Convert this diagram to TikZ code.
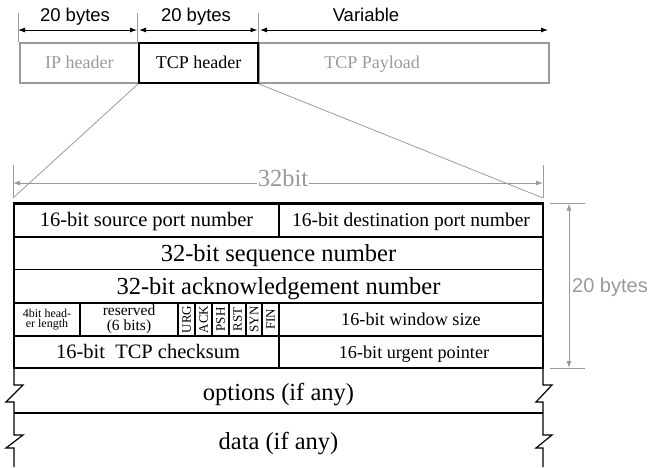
\documentclass[tikz,border=0pt]{standalone}
\usepackage{fontspec}
\setmainfont{Liberation Serif}
\setsansfont{Liberation Sans}
\usetikzlibrary{arrows.meta}

\definecolor{softgray}{HTML}{9A9A9A}

\begin{document}
\begin{tikzpicture}[x=1pt,y=-1pt,
  every node/.style={inner sep=0pt},
  % box a single text line by its capital height, so it sits centred
  line/.style={text height=#1, text depth=0pt},
  hdrbox/.style={draw, rectangle, anchor=north west, minimum height=40pt,
    line width=1.6pt, line=11.9pt, font=\fontsize{18}{20}\selectfont},
  lbl/.style={line=11.9pt, font=\fontsize{18}{20}\selectfont},
  dimtxt/.style={line=13.2pt, font=\sffamily\fontsize{18.5}{20}\selectfont},
  tip/.tip={Latex[length=7pt,width=5pt]},
  dimarrow/.style={line width=0.9pt, tip-tip},
  fsmall/.style={line=12pt, font=\fontsize{18.2}{20}\selectfont},
  fmid/.style={line=13.5pt, font=\fontsize{20.5}{22}\selectfont},
  fbig/.style={line=16.2pt, font=\fontsize{24.5}{26}\selectfont},
  flag/.style={rotate=90, line=8.6pt, font=\fontsize{13}{13}\selectfont},
  outer/.style={line width=2.5pt},
  inner/.style={line width=1.2pt},
]
\useasboundingbox (0,0) rectangle (651,467);

% ---------- packet layout ----------
\node[hdrbox, draw=softgray, minimum width=119pt] (ip) at (19,42) {};
\node[hdrbox, draw=softgray, minimum width=290pt] (pay) at (258,42) {};
\node[hdrbox, draw=black, minimum width=119pt, line width=2pt] (tcp) at (138,42) {TCP header};
\node[lbl, text=softgray] (iptxt) at (ip.center) {IP header};
\node[lbl, text=softgray] (paytxt) at (372,62.8) {TCP Payload};

% length markers above the packet
\coordinate (t0) at (18,13);
\coordinate (t1) at (137.5,13);
\coordinate (t2) at (258,13);
\draw[softgray, line width=0.9pt] (t0) -- (t0 |- ip.north);
\draw[softgray, line width=0.9pt] (t1) -- (t1 |- ip.north);
\draw[softgray, line width=0.9pt] (t2) -- (t2 |- ip.north);
\coordinate (a0) at (18,30);
\coordinate (a1) at (137,30);
\coordinate (a2) at (139,30);
\coordinate (a3) at (257.5,30);
\coordinate (a4) at (260,30);
\coordinate (a5) at (548,30);
\draw[dimarrow] (a0) -- (a1);
\draw[dimarrow] (a2) -- (a3);
\draw[dimarrow] (a4) -- (a5);
\node[dimtxt] (w1) at (75,15) {20 bytes};
\node[dimtxt] (w2) at (196,15) {20 bytes};
\node[dimtxt] (w3) at (366,15) {Variable};

% ---------- zoom lines and 32-bit width ----------
\coordinate (zl) at (13,198);
\coordinate (zr) at (543,198);
\draw[softgray, line width=0.8pt] (tcp.south west) -- (zl);
\draw[softgray, line width=0.8pt] (tcp.south east) -- (zr);
\draw[softgray, line width=0.9pt] (13,165) -- (zl);
\draw[softgray, line width=0.9pt] (543,165) -- (zr);
\coordinate (wl) at (13,183);
\coordinate (wr) at (543,183);
\draw[softgray, dimarrow] (wl) -- (wr);
\node[fbig, fill=white, inner xsep=1pt, inner ysep=1pt, text=softgray] (w32) at (283,178.5) {32bit};

% ---------- TCP header table ----------
% row lines
\draw[inner] (14,237) -- (543,237);
\draw[inner] (14,269.5) -- (543,269.5);
\draw[inner] (14,303) -- (543,303);
\draw[inner] (14,336) -- (543,336);
% column lines
\draw[inner] (279,203.5) -- (279,237);
\foreach \x in {80,178,195,212,229,246,262,279}
  \draw[inner] (\x,303) -- (\x,336);
\draw[inner] (279,336) -- (279,368);
% border of the fixed 20-byte part
\draw[outer] (14,203.5) rectangle (543,368);

% cell texts
\node[fmid] (sport) at (146.5,220) {16-bit source port number};
\node[line=12.9pt, font=\fontsize{19.5}{21}\selectfont] (dport) at (411,220) {16-bit destination port number};
\node[fbig] (seq) at (278.5,253) {32-bit sequence number};
\node[fbig] (acknum) at (278.5,286) {32-bit acknowledgement number};
\node[align=center, font=\fontsize{12}{10.5}\selectfont] (hdrlen) at (47,319.5) {4bit head-\\er length};
\node[align=center, font=\fontsize{15.5}{14.5}\selectfont] (rsv) at (129,319.5) {reserved\\(6 bits)};
\node[flag] (urg) at (186.5,319.5) {URG};
\node[flag] (ack) at (203.5,319.5) {ACK};
\node[flag] (psh) at (220.5,319.5) {PSH};
\node[flag] (rst) at (237.5,319.5) {RST};
\node[flag] (syn) at (254,319.5) {SYN};
\node[flag] (fin) at (270.5,319.5) {FIN};
\node[fsmall] (win) at (411,319.5) {16-bit window size};
\node[fmid] (csum) at (148,352) {16-bit\ \ TCP checksum};
\node[fsmall] (urgp) at (414,352) {16-bit urgent pointer};

% ---------- variable-length part ----------
\draw[inner] (14,368) -- (14,385) -- (23,385) -- (6,402) -- (14,402)
  -- (14,435) -- (23,435) -- (6,448) -- (14,448) -- (14,467);
\draw[inner] (543,368) -- (543,385) -- (552,385) -- (536,402) -- (543,402)
  -- (543,435) -- (552,435) -- (536,448) -- (543,448) -- (543,467);
\draw[inner] (14,413) -- (543,413);
\node[fbig] (opts) at (278.5,392) {options (if any)};
\node[fbig] (data) at (278.5,441) {data (if any)};

% ---------- 20-byte height marker ----------
\coordinate (hb) at (550,203.5);
\coordinate (he) at (550,368);
\draw[softgray, line width=0.9pt] (hb) -- ++(35,0);
\draw[softgray, line width=0.9pt] (he) -- ++(35,0);
\coordinate (vt) at (569,203.5);
\coordinate (vb) at (569,368);
\draw[softgray, dimarrow] (vt) -- (vb);
\node[line=14.3pt, anchor=west, text=softgray, font=\sffamily\fontsize{20}{22}\selectfont] (h20) at (572,285) {20 bytes};
\end{tikzpicture}
\end{document}
